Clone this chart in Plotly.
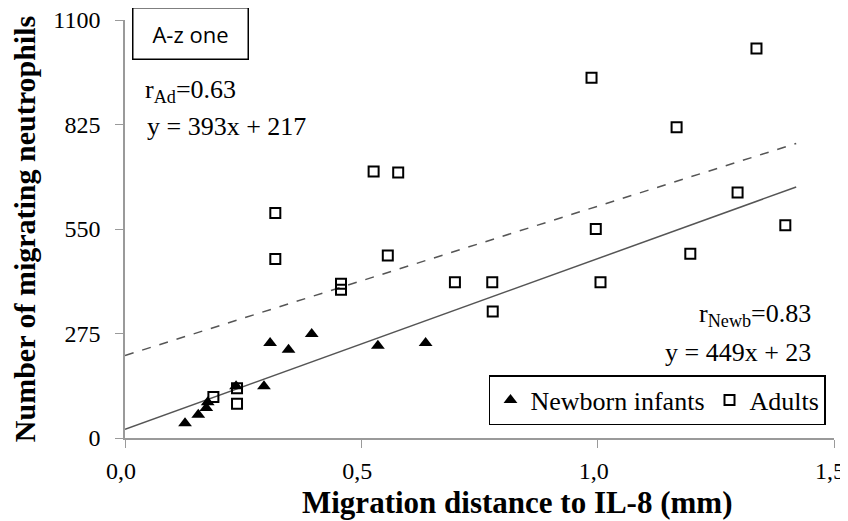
import plotly.graph_objects as go

# Newborn infants
newb_x = [0.127, 0.155, 0.172, 0.175, 0.235, 0.294, 0.307, 0.346, 0.395, 0.535, 0.636]
newb_y = [39, 61, 79, 94, 136, 136, 250, 232, 274, 243, 250]

# Adults
adult_x = [0.187, 0.237, 0.237, 0.318, 0.318, 0.457, 0.457, 0.526, 0.578, 0.556, 0.698,
           0.777, 0.778, 0.987, 0.996, 1.006, 1.167, 1.196, 1.296, 1.336, 1.397]
adult_y = [108, 131, 90, 592, 471, 406, 390, 701, 699, 480, 410,
           410, 333, 948, 550, 410, 818, 485, 646, 1025, 560]

# Regression coefficients (slope, intercept)
newb_fit = (449, 23)
adult_fit = (393, 217)
fit_x = [0.0, 1.42]

x_ticks = [0, 0.5, 1.0, 1.5]
x_tick_labels = ["0,0", "0,5", "1,0", "1,5"]
y_ticks = [0, 275, 550, 825, 1100]

serif = "Liberation Serif, Times New Roman, serif"
sans = "Open Sans"

fig = go.Figure()

fig.add_trace(go.Scatter(
    x=fit_x, y=[adult_fit[0] * v + adult_fit[1] for v in fit_x],
    mode="lines", line=dict(color="#555555", width=1.5, dash="dash"),
    showlegend=False, hoverinfo="skip"))
fig.add_trace(go.Scatter(
    x=fit_x, y=[newb_fit[0] * v + newb_fit[1] for v in fit_x],
    mode="lines", line=dict(color="#555555", width=1.5),
    showlegend=False, hoverinfo="skip"))

fig.add_trace(go.Scatter(
    x=newb_x, y=newb_y, mode="markers", name="Newborn infants",
    marker=dict(symbol="triangle-up", size=12, color="black", line=dict(width=0)),
    cliponaxis=False))
fig.add_trace(go.Scatter(
    x=adult_x, y=adult_y, mode="markers", name="Adults",
    marker=dict(symbol="square-open", size=10, color="black", line=dict(width=2)),
    cliponaxis=False))

fig.update_layout(
    width=840, height=513,
    margin=dict(l=117, r=14, t=12, b=83),
    plot_bgcolor="white", paper_bgcolor="white",
    font=dict(family=serif, size=24, color="black"),
    xaxis=dict(range=[0, 1.5], tickvals=x_ticks, ticktext=x_tick_labels, automargin=False,
               showgrid=False, zeroline=False, showline=True, linecolor="#9a9a9a", linewidth=1.5,
               ticks="outside", ticklen=8, tickcolor="#9a9a9a", ticklabelstandoff=2,
               ticklabelshift=-4, ticklabeloverflow="allow",
               tickfont=dict(family=serif, size=24)),
    yaxis=dict(range=[0, 1100], tickvals=y_ticks, automargin=False,
               showgrid=False, zeroline=False, showline=True, linecolor="#9a9a9a", linewidth=1.5,
               ticks="outside", ticklen=8, tickcolor="#9a9a9a", ticklabelstandoff=10,
               ticklabeloverflow="allow",
               tickfont=dict(family=serif, size=24),
               title=dict(text="<b>Number of migrating neutrophils</b>",
                          font=dict(family=serif, size=30), standoff=20)),
    legend=dict(orientation="h", x=0.9887, xanchor="right", y=0.1507, yanchor="top",
                bordercolor="black", borderwidth=1.5, bgcolor="white",
                font=dict(family=serif, size=26), itemwidth=30),
    showlegend=True,
)

# x-axis title (offset to the right as in the reference)
fig.add_annotation(xref="paper", yref="paper", x=0.5536, y=-0.155, xanchor="center", yanchor="middle",
                   text="<b>Migration distance to IL-8 (mm)</b>", showarrow=False,
                   font=dict(family=serif, size=31))

fig.add_annotation(xref="paper", yref="paper", x=0.0099, y=1.03, xanchor="left", yanchor="top",
                   text="A-z one", showarrow=False, font=dict(family=sans, size=22),
                   width=110, height=46, align="center", valign="middle",
                   bordercolor="black", borderwidth=1.5, borderpad=2, bgcolor="white")
fig.add_annotation(xref="paper", yref="paper", x=0.025, y=0.83, xanchor="left", yanchor="middle",
                   text="r<sub>Ad</sub>=0.63", showarrow=False, font=dict(family=serif, size=26))
fig.add_annotation(xref="paper", yref="paper", x=0.028, y=0.745, xanchor="left", yanchor="middle",
                   text="y = 393x + 217", showarrow=False, font=dict(family=serif, size=26))
fig.add_annotation(xref="paper", yref="paper", x=0.9705, y=0.295, xanchor="right", yanchor="middle",
                   text="r<sub>Newb</sub>=0.83", showarrow=False, font=dict(family=serif, size=26))
fig.add_annotation(xref="paper", yref="paper", x=0.97, y=0.205, xanchor="right", yanchor="middle",
                   text="y = 449x + 23", showarrow=False, font=dict(family=serif, size=26))

fig.write_html("out.html")
